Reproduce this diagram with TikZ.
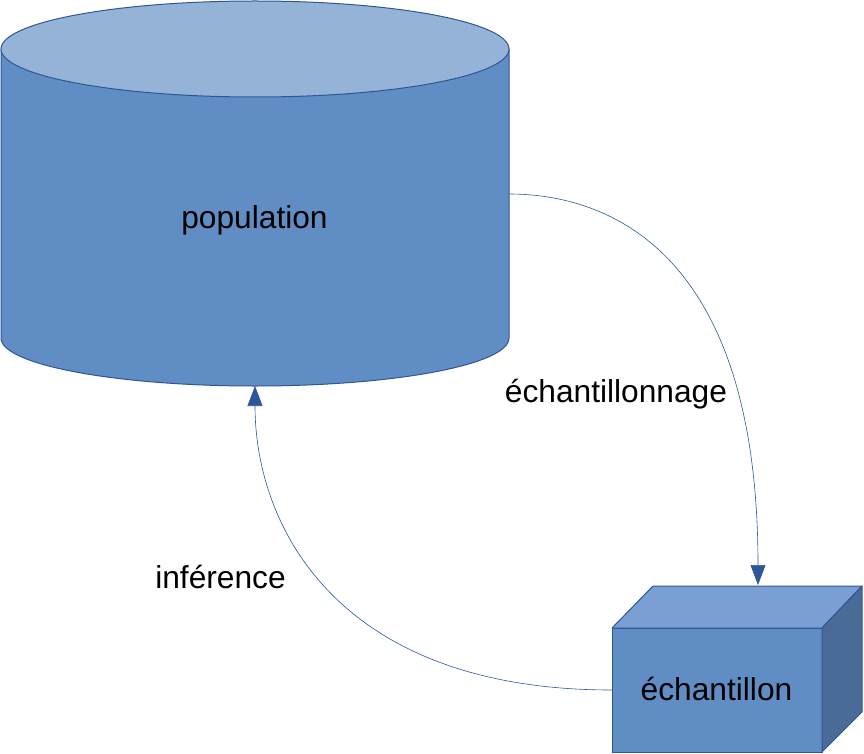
\documentclass[tikz,border=0pt]{standalone}
\usepackage{fontspec}
\setmainfont{Liberation Sans}
\usetikzlibrary{arrows.meta}
\definecolor{bodyblue}{HTML}{5F8DC4}
\definecolor{topblue}{HTML}{95B3D7}
\definecolor{cubetop}{HTML}{7A9FD2}
\definecolor{cubeside}{HTML}{4A6A97}
\definecolor{edgeblue}{HTML}{2F5597}
\definecolor{arrowblue}{HTML}{2D5598}
\tikzset{
  shapeedge/.style={draw=edgeblue, line width=1pt, line join=round},
  lbl/.style={font=\fontsize{31.7}{38}\selectfont, text=black, inner sep=0pt, anchor=base},
  connector/.style={draw=arrowblue, line width=0.6pt, -{Triangle[length=20pt,width=15pt]}}
}
\begin{document}
\begin{tikzpicture}[x=1pt,y=1pt]
\useasboundingbox (0,0) rectangle (864,-754);
% cylinder (population)
\path[shapeedge, fill=bodyblue] (1,-49) -- (1,-338) arc[start angle=180, end angle=360, x radius=254, y radius=48] -- (509,-49) -- cycle;
\path[shapeedge, fill=topblue] (255,-49) ellipse[x radius=254, y radius=48];
\node[lbl] (population) at (254.5,-228) {population};
\coordinate (popE) at (509,-194);
\coordinate (popS) at (255,-386);
% cube (échantillon)
\path[shapeedge, fill=bodyblue] (612,-628) rectangle (822,-752);
\path[shapeedge, fill=cubetop] (612,-628) -- (653,-586) -- (862,-586) -- (822,-628) -- cycle;
\path[shapeedge, fill=cubeside] (822,-628) -- (862,-586) -- (862,-712) -- (822,-752) -- cycle;
\node[lbl] (echantillon) at (716.5,-700) {échantillon};
\coordinate (echN) at (758,-585);
\coordinate (echW) at (612,-690);
% connectors
\draw[connector] (popE) .. controls (598,-194) and (758,-240) .. (echN);
\draw[connector] (echW) .. controls (336,-690) and (255,-525) .. (popS);
% labels
\node[lbl] (lblech) at (616,-402) {échantillonnage};
\node[lbl] (lblinf) at (220.5,-588) {inférence};
\end{tikzpicture}
\end{document}
